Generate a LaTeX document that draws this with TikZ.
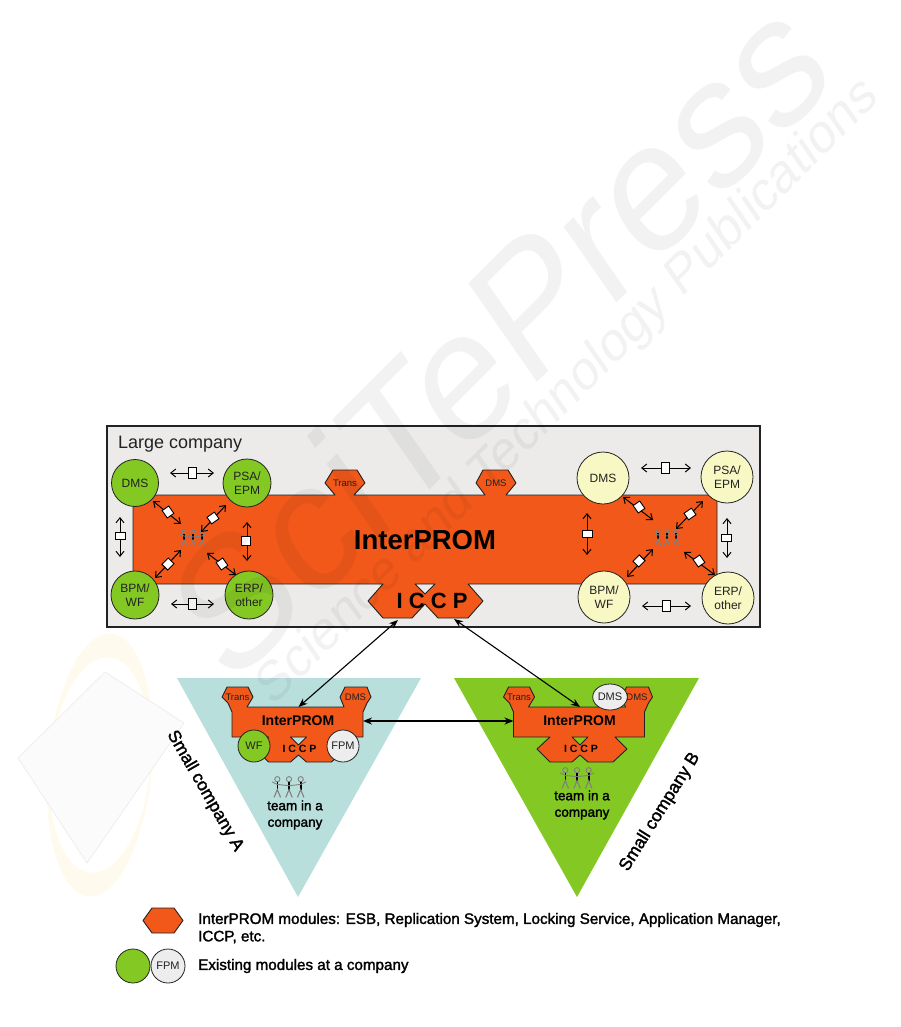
\documentclass[tikz,border=0pt]{standalone}
\usepackage{fontspec}
\setmainfont{Liberation Sans}
\newfontfamily\heavyfont[FakeBold=1.8]{Liberation Sans}
\usetikzlibrary{arrows.meta,shapes.geometric}
\newcommand{\fsz}[1]{\fontsize{#1}{#1}\selectfont}

\definecolor{promorange}{HTML}{F1581A}
\definecolor{modgreen}{HTML}{84C823}
\definecolor{modyellow}{HTML}{F7F8C4}
\definecolor{boxgray}{HTML}{ECEBE9}
\definecolor{teal}{HTML}{B8DFDC}
\definecolor{fpmgray}{HTML}{EDEDED}
\definecolor{inkdark}{HTML}{222222}

\tikzset{
 promshape/.style={fill=promorange, draw=inkdark, line width=0.9pt, even odd rule, line join=round},
 modgreennode/.style={circle, draw=inkdark, line width=0.8pt, fill=modgreen, inner sep=0pt, text=inkdark, align=center, font=\fsz{12}},
 modyellownode/.style={circle, draw=inkdark, line width=0.8pt, fill=modyellow, inner sep=0pt, text=inkdark, align=center, font=\fsz{12}},
 docicon/.style={draw=black, line width=0.9pt, fill=white, inner sep=0pt, minimum width=8pt, minimum height=11pt},
 docarrow/.style={<->, >={Straight Barb[length=5pt,width=8pt]}, line width=1pt, black},
 linkarrow/.style={<->, >={Stealth[length=9pt,width=7pt]}, line width=1.1pt, black},
 tablabel/.style={inner sep=0pt, text=inkdark, font=\fsz{9.5}},
 teamlabel/.style={inner sep=0pt, align=center, font=\heavyfont\fsz{13.5}, text=black},
 sidelabel/.style={inner sep=0pt, font=\heavyfont\fsz{17.5}, text=black},
 legendlabel/.style={anchor=west, inner sep=0pt, font=\heavyfont\fsz{15.2}, text=black},
 marklabel/.style={inner sep=0pt, text=black, text opacity=0.05},
 team/.pic={
  \foreach \fx in {-9,0,9} {
   \draw[gray, line width=0.9pt] (\fx,-6) circle (2);
   \draw[black, line width=1.6pt] (\fx,-4) -- (\fx,2);
   \draw[gray, line width=1.1pt] (\fx-2.5,8) -- (\fx,2) -- (\fx+2.5,8);
  }
  \draw[gray, line width=0.9pt] (-13,-4) -- (-9,-2) -- (0,-1) -- (9,-2) -- (13,-4);
 },
 miniprom/.pic={
  \path[promshape] (232,737) -- (232,712) -- (228,703) -- (222,697) -- (227,687) -- (248,687) -- (253,697) -- (247,707)
   -- (344,707) -- (340,697) -- (345,687) -- (367,687) -- (371,697) -- (367,703) -- (363,712) -- (363,737)
   -- (333.5,737) -- (345.5,749) -- (331.5,762) -- (306.5,762) -- (298.5,755) -- (290.5,762) -- (268.5,762) -- (255.5,749) -- (268.5,737) -- cycle
   (290.5,737) -- (306.5,737) -- (298.5,745) -- cycle;
  \node[tablabel] (-trans) at (237.5,697) {Trans};
  \node[tablabel] (-dms) at (355.5,697) {DMS};
  \node[inner sep=0pt, font=\bfseries\fsz{14}, text=black] (-name) at (298,720.5) {InterPROM};
  \node[inner sep=0pt, font=\bfseries\fsz{10.5}, text=black] (-iccp) at (299.5,749) {I C C P};
  \coordinate (-top) at (298.5,707);
  \coordinate (-left) at (232,721);
  \coordinate (-right) at (363,721);
 },
}

\begin{document}
\begin{tikzpicture}[x=1pt, y=-1pt]
 \useasboundingbox (0,0) rectangle (901,1027);

 % logo behind the figure
 \fill[yellow!45!orange, opacity=0.07, even odd rule, rotate around={-5:(100,765)}]
  (100,765) ellipse (52 and 132) (100,765) ellipse (50 and 108);
 \filldraw[black!1.5, draw=black!6, line width=1pt] (105,672) -- (184,723) -- (87,863) -- (18,758) -- cycle;

 % large company
 \node[draw=inkdark, line width=1.1pt, fill=boxgray, minimum width=653pt, minimum height=201pt, inner sep=0pt] (large) at (433.5,526.5) {};
 \node[anchor=west, inner sep=0pt, font=\fsz{18}, text=inkdark] (largelabel) at (118,444.5) {Large company};

 \path[promshape] (133,495) -- (335,495) -- (325,483) -- (333,470) -- (357,470) -- (365,483) -- (354,495)
  -- (485,495) -- (476,483) -- (483,470) -- (508,470) -- (516,483) -- (506,495)
  -- (717,495) -- (717,584) -- (468,584) -- (483,601) -- (468,618) -- (438,618) -- (425,604) -- (412,618)
  -- (383,618) -- (368,601) -- (383,584) -- (133,584) -- cycle
  (415,584) -- (435,584) -- (425,594) -- cycle;
 \node[tablabel] (transtab) at (345,483) {Trans};
 \node[tablabel] (dmstab) at (496,483) {DMS};
 \node[inner sep=0pt, font=\bfseries\fsz{27.5}, text=black] (prom) at (425,540) {InterPROM};
 \node[inner sep=0pt, font=\bfseries\fsz{22}, text=black] (iccp) at (432,601) {I C C P};

 % left modules
 \node[modgreennode, minimum size=47pt] (ldms) at (135,483) {DMS};
 \node[modgreennode, minimum size=48pt] (lpsa) at (247,483) {PSA/\\[2pt]EPM};
 \node[modgreennode, minimum size=48pt] (lbpm) at (135,595) {BPM/\\[2pt]WF};
 \node[modgreennode, minimum size=48pt] (lerp) at (249,595) {ERP/\\[2pt]other};
 \pic at (193,538) {team};

 \coordinate (la1) at (170,473); \coordinate (la2) at (214,473);
 \coordinate (lb1) at (171,604); \coordinate (lb2) at (214,604);
 \coordinate (lc1) at (120,517); \coordinate (lc2) at (120,557);
 \coordinate (ld1) at (247,522); \coordinate (ld2) at (247,561);
 \coordinate (le1) at (153,501); \coordinate (le2) at (181,524);
 \coordinate (lf1) at (226,505); \coordinate (lf2) at (201,532);
 \coordinate (lg1) at (155,578); \coordinate (lg2) at (181,550);
 \coordinate (lh1) at (207,553); \coordinate (lh2) at (236,575);
 \foreach \arr in {la,lb,lc,ld,le,lf,lg,lh}
  \draw[docarrow] (\arr1) -- (\arr2);
 \node[docicon] (ldoca) at (192,473) {};
 \node[docicon] (ldocb) at (192,604) {};
 \node[docicon, minimum width=10pt, minimum height=7pt] (ldocc) at (120,536) {};
 \node[docicon, minimum width=9pt, minimum height=9pt] (ldocd) at (246,541) {};
 \node[docicon, minimum height=9pt, rotate=35] (ldoce) at (168,512) {};
 \node[docicon, minimum height=9pt, rotate=-55] (ldocf) at (213,518) {};
 \node[docicon, minimum height=9pt, rotate=-45] (ldocg) at (168,564) {};
 \node[docicon, minimum height=9pt, rotate=35] (ldoch) at (222,564) {};

 % right modules
 \node[modyellownode, minimum size=52pt] (rdms) at (603,478) {DMS};
 \node[modyellownode, minimum size=52pt] (rpsa) at (727,477) {PSA/\\[2pt]EPM};
 \node[modyellownode, minimum size=52pt] (rbpm) at (604,597) {BPM/\\[2pt]WF};
 \node[modyellownode, minimum size=52pt] (rerp) at (728,598) {ERP/\\[2pt]other};
 \pic at (667,537) {team};

 \coordinate (ra1) at (641,468); \coordinate (ra2) at (691,468);
 \coordinate (rb1) at (642,606); \coordinate (rb2) at (691,606);
 \coordinate (rc1) at (727,518); \coordinate (rc2) at (727,558);
 \coordinate (rd1) at (587,513); \coordinate (rd2) at (587,555);
 \coordinate (re1) at (623,497); \coordinate (re2) at (653,520);
 \coordinate (rf1) at (703,501); \coordinate (rf2) at (676,529);
 \coordinate (rg1) at (627,577); \coordinate (rg2) at (653,549);
 \coordinate (rh1) at (684,552); \coordinate (rh2) at (715,575);
 \foreach \arr in {ra,rb,rc,rd,re,rf,rg,rh}
  \draw[docarrow] (\arr1) -- (\arr2);
 \node[docicon] (rdoca) at (665,468) {};
 \node[docicon] (rdocb) at (666,606) {};
 \node[docicon, minimum width=10pt, minimum height=7pt] (rdocc) at (726,538) {};
 \node[docicon, minimum width=10pt, minimum height=7pt] (rdocd) at (587,534) {};
 \node[docicon, minimum height=9pt, rotate=35] (rdoce) at (639,507) {};
 \node[docicon, minimum height=9pt, rotate=-55] (rdocf) at (690,514) {};
 \node[docicon, minimum height=9pt, rotate=-45] (rdocg) at (639,561) {};
 \node[docicon, minimum height=9pt, rotate=35] (rdoch) at (699,561) {};

 % small company A
 \fill[teal] (177,678) -- (421,678) -- (298,897) -- cycle;
 \pic (pa) at (0,0) {miniprom};
 \node[modgreennode, minimum size=32pt, font=\fsz{11}] (awf) at (254,746) {WF};
 \node[modgreennode, fill=fpmgray, minimum size=32pt, font=\fsz{11}] (afpm) at (343,746) {FPM};
 \pic[scale=1.3] at (289,787) {team};
 \node[teamlabel] (ateam) at (295,815) {team in a\\[3pt]company};
 \node[sidelabel, rotate=-60] (alabel) at (205,791) {Small company A};

 % small company B
 \fill[modgreen] (454,678) -- (699,678) -- (577,897) -- cycle;
 \pic (pb) at (281.5,0) {miniprom};
 \node[ellipse, draw=inkdark, line width=0.8pt, fill=fpmgray, inner sep=0pt, text=inkdark, minimum width=30pt, minimum height=26pt, font=\fsz{11}] (bdms) at (610,697) {DMS};
 \pic[scale=1.3] at (577,778) {team};
 \node[teamlabel] (bteam) at (582,805) {team in a\\[3pt]company};
 \node[sidelabel, rotate=58] (blabel) at (660,812) {Small company B};

 % links between companies
 \coordinate (iccpl) at (398,620);
 \coordinate (iccpr) at (454,619);
 \draw[linkarrow] (iccpl) -- (pa-top);
 \draw[linkarrow] (iccpr) -- (pb-top);
 \draw[linkarrow, line width=2pt] (pa-right) -- (pb-left);

 % legend
 \path[promshape] (152,908) -- (174,908) -- (183,920.5) -- (174,933) -- (152,933) -- (143,920.5) -- cycle;
 \node[legendlabel] (legenda) at (198,920) {InterPROM modules: ESB, Replication System, Locking Service, Application Manager,};
 \node[legendlabel] (legendb) at (198,937) {ICCP, etc.};
 \node[modgreennode, minimum size=34pt] (legendc) at (133,966) {};
 \node[modgreennode, fill=fpmgray, minimum size=34pt, font=\fsz{11}] (legendd) at (168,966) {FPM};
 \node[legendlabel] (legende) at (198,966) {Existing modules at a company};

 % watermark over everything
 \begin{scope}[shift={(527,393)}, rotate=45, xslant=.18, transform shape]
  \node[marklabel, anchor=base west, font=\fsz{172}] (markpress) at (0,0) {Press};
  \node[marklabel, anchor=base east, font=\fsz{172}] (marksci) at (0,0) {SciTe};
 \end{scope}
 \begin{scope}[shift={(880,100)}, rotate=45, xslant=.18, transform shape]
  \node[marklabel, anchor=base east, font=\fsz{52}] (markpub) at (0,0) {Science and Technology Publications};
 \end{scope}
\end{tikzpicture}
\end{document}
